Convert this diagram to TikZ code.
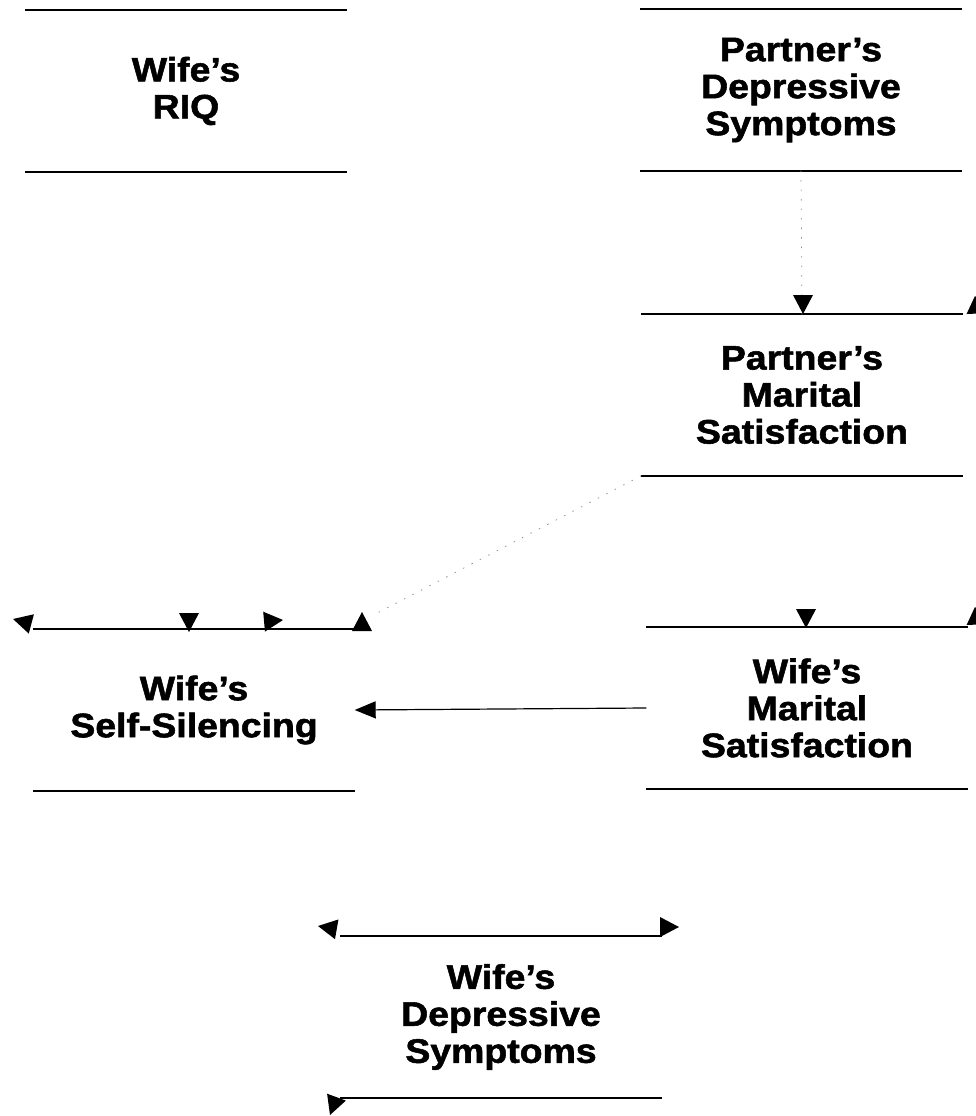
\documentclass[tikz,border=0pt]{standalone}
\usepackage{fontspec}
\setmainfont{Liberation Sans}[BoldFeatures={FakeBold=1.6,FakeStretch=1.1}]
\usetikzlibrary{arrows.meta,calc}
\newcommand\tipat[3]{\fill[black,shift={(#1,#2)},rotate=#3] (0,0)--(-19,10)--(-19,-10)--cycle;}
\begin{document}
\begin{tikzpicture}[x=1pt,y=-1pt,
  box/.style={rectangle, inner sep=0pt, minimum width=321pt, minimum height=161pt,
    align=center, font=\fontsize{34}{37}\selectfont\bfseries},
  rule/.style={line width=1.7pt},
  faint/.style={black!45, line width=0.7pt, dash pattern=on 1.5pt off 8pt}]
\useasboundingbox (0,0) rectangle (976,1116);

\node[box] (riq) at (186,91) {Wife's\\RIQ};
\node[box] (pds) at (801,90) {Partner's\\Depressive\\Symptoms};
\node[box] (pms) at (802,395) {Partner's\\Marital\\Satisfaction};
\node[box] (wss) at (194,710) {Wife's\\Self-Silencing};
\node[box] (wms) at (807,708) {Wife's\\Marital\\Satisfaction};
\node[box] (wds) at (501,1017) {Wife's\\Depressive\\Symptoms};

\foreach \n in {riq,pds,pms,wss,wms,wds}{
  \draw[rule] (\n.north west) -- (\n.north east);
  \draw[rule] (\n.south west) -- (\n.south east);
}

% connectors
\draw[faint] (pds.south) -- (pms.north);
\coordinate (diagend) at ($(wss.north east)+(22,-16)$);
\draw[faint] (pms.south west) -- (diagend);
\draw[line width=1.2pt, -{Triangle[length=21pt,width=17pt]}] (wms.west) -- (wss.east);

% arrowheads on the box edges (angles counter-clockwise on the page)
\tipat{803}{314}{-90}
\tipat{988}{313}{-25}
\tipat{13}{619}{165}
\tipat{189}{632}{-90}
\tipat{283}{620}{5}
\tipat{362}{612}{90}
\tipat{806}{628}{-90}
\tipat{988}{624}{-25}
\tipat{318}{926}{170}
\tipat{679}{927}{0}
\tipat{330}{1115}{-110}
\end{tikzpicture}
\end{document}
